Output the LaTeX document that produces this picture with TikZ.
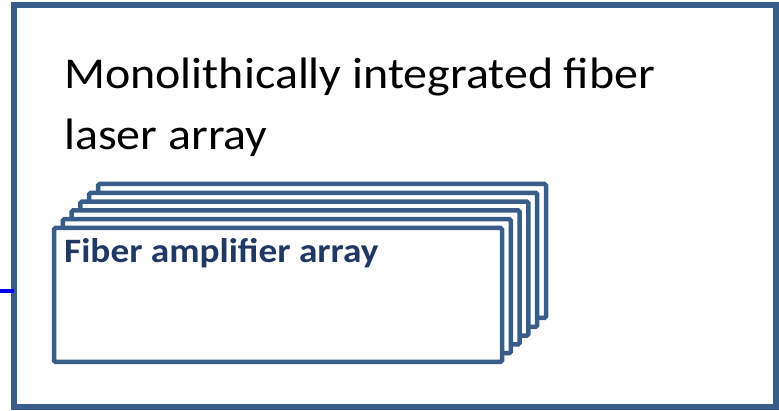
\documentclass[tikz,border=0pt]{standalone}
\usepackage{fontspec}
\setmainfont{Carlito}[FakeStretch=1.09]
\definecolor{boxblue}{HTML}{385D8A}
\definecolor{labelblue}{HTML}{1F3864}
\tikzset{
	outerbox/.style={draw=boxblue, line width=5.5pt, minimum width=762pt, minimum height=402pt, inner sep=0pt, outer sep=0pt},
	ampbox/.style={draw=boxblue, fill=white, line width=4.5pt, rounded corners=1.5pt, minimum width=448pt, minimum height=134pt, inner sep=0pt, outer sep=0pt},
	titletext/.style={anchor=base west, inner sep=0pt, align=left, font=\fontsize{44}{61}\selectfont},
	amptext/.style={anchor=base west, inner sep=0pt, text=labelblue, font=\fontsize{34.2}{40}\selectfont\bfseries}
}
\begin{document}
\begin{tikzpicture}[x=1pt, y=-1pt]
	\useasboundingbox (0, 0) rectangle (779, 411);

	\node[outerbox] (laser) at (395, 206) {};
	\node[titletext] (title) at (64, 150) {Monolithically integrated fiber\\laser array};

	\foreach \i in {5,4,...,1}
		\node[ampbox] (amp\i) at (278+8.8*\i, 295-8.8*\i) {};
	\node[ampbox] (amp0) at (278, 295) {};
	\node[amptext] (amplabel) at (64, 263) {Fiber amplifier array};

	\coordinate (in) at (0, 291);
	\draw[blue, line width=4pt] (in) -- (in -| laser.west);
\end{tikzpicture}
\end{document}
